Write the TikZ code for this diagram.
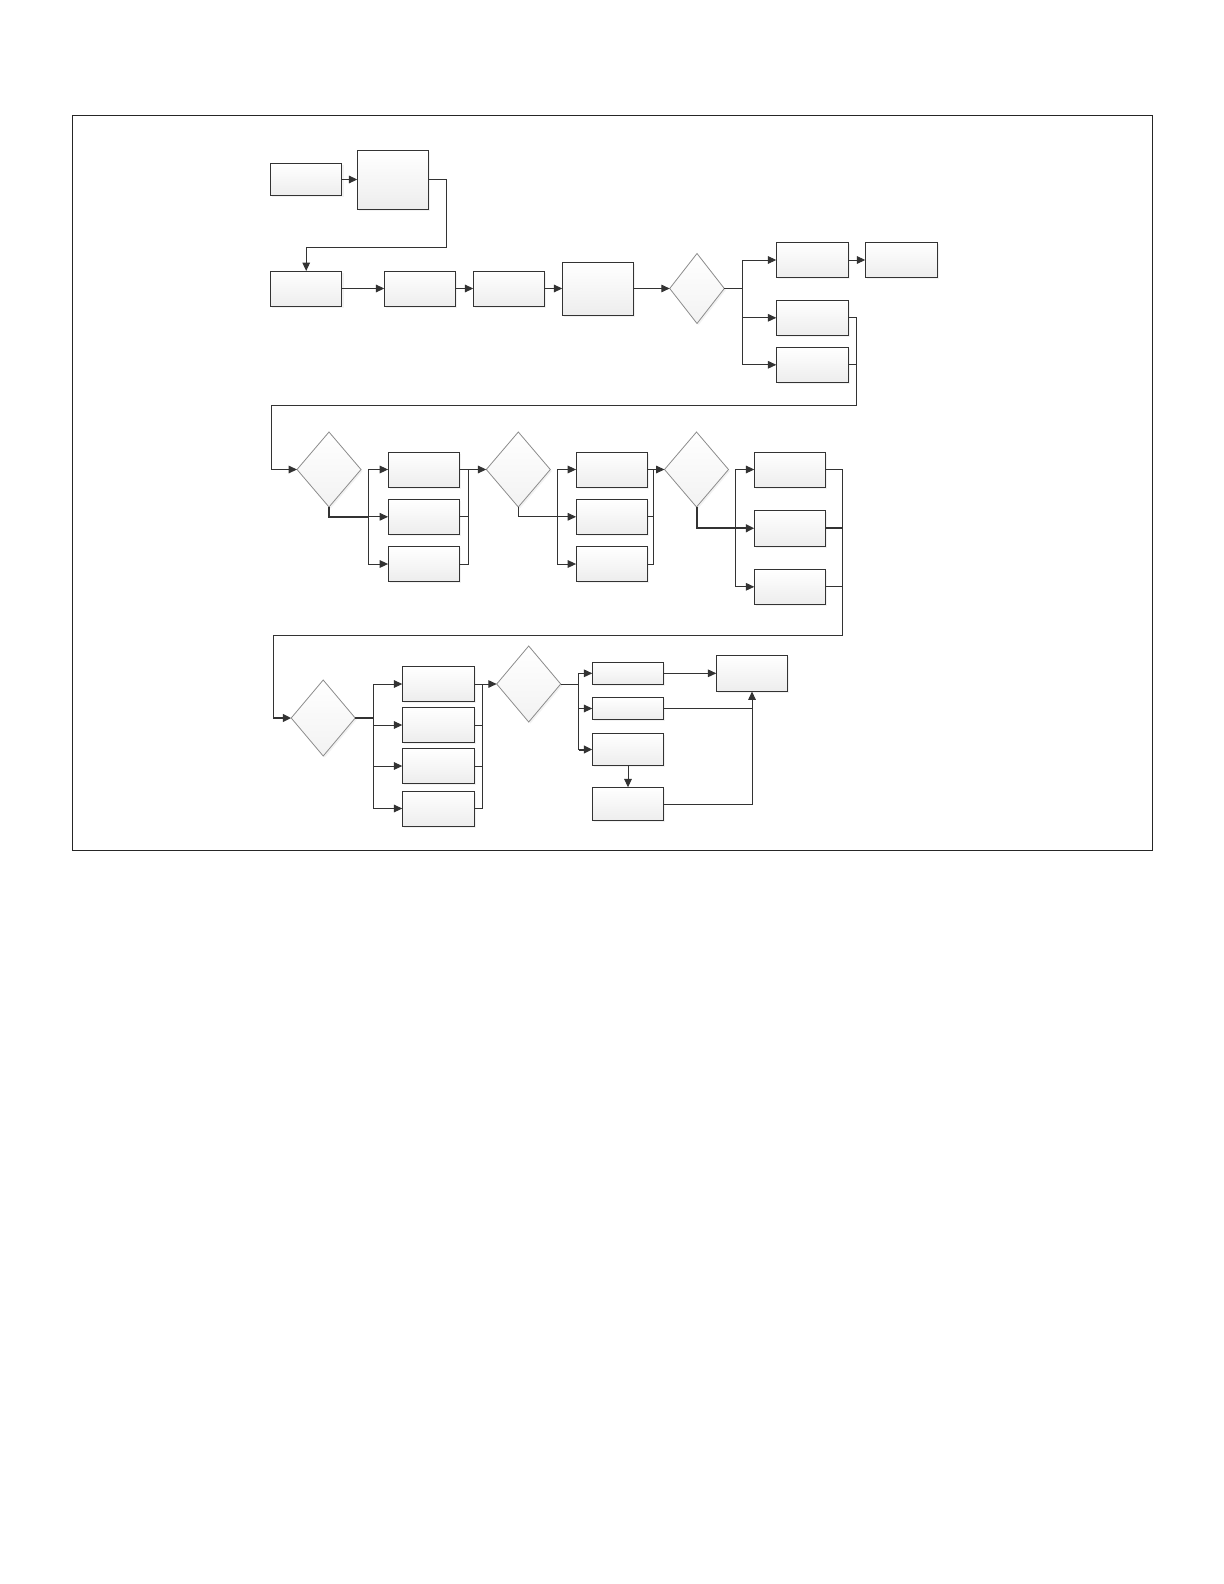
\documentclass[tikz,border=0pt]{standalone}
\usetikzlibrary{shapes.geometric,arrows.meta,shadows}

\begin{document}
\begin{tikzpicture}[x=0.5pt,y=-0.5pt,
    box/.style={rectangle, draw=black!80, line width=0.5pt, top color=white, bottom color=black!7,
      drop shadow={opacity=0.1, shadow xshift=0.8pt, shadow yshift=-0.8pt},
      minimum width=35.7pt, minimum height=17.5pt, inner sep=0pt, outer sep=0pt},
    dec/.style={diamond, draw=black!45, line width=0.4pt, top color=white, bottom color=black!5,
      drop shadow={opacity=0.1, shadow xshift=0.8pt, shadow yshift=-0.8pt},
      minimum width=32pt, minimum height=37.5pt, inner sep=0pt, outer sep=0pt},
    line/.style={draw=black!80, line width=0.5pt},
    arr/.style={line, -{Triangle[length=4.2pt,width=3.8pt]}},
    bold/.style={line width=1pt}]
    \useasboundingbox (0,0) rectangle (1224,1584);

    % 外枠
    \draw[line width=0.6pt, black!85] (72.3,115.3) rectangle (1152.3,850.3);

    % ノードの定義
    \node[box, minimum height=16pt] (A) at (306.2,179.5) {};
    \node[box, minimum height=29.5pt] (B) at (393,179.5) {};
    \node[box] (C) at (306.2,288.5) {};
    \node[box] (D) at (420,288.5) {};
    \node[box] (E) at (509,288.5) {};
    \node[box, minimum height=26.5pt] (F) at (598,288.5) {};
    \node[dec, minimum width=27.3pt, minimum height=35pt] (d1) at (697,288.5) {};
    \node[box, minimum width=36.2pt] (G1) at (812.5,260) {};
    \node[box, minimum width=36.2pt] (G2) at (901.5,260) {};
    \node[box, minimum width=36.2pt] (G3) at (812.5,317.8) {};
    \node[box, minimum width=36.2pt] (G4) at (812.5,364.8) {};

    \node[dec] (d2) at (329,469.5) {};
    \node[box] (H1) at (423.8,469.5) {};
    \node[box] (H2) at (423.8,516.8) {};
    \node[box] (H3) at (423.8,564) {};
    \node[dec] (d3) at (518.3,469.5) {};
    \node[box] (I1) at (611.8,469.5) {};
    \node[box] (I2) at (611.8,516.8) {};
    \node[box] (I3) at (611.8,564) {};
    \node[dec] (d4) at (696.5,469.5) {};
    \node[box] (J1) at (790,469.5) {};
    \node[box, minimum height=18pt] (J2) at (790,528.3) {};
    \node[box] (J3) at (790,586.8) {};

    \node[dec, minimum height=38pt] (d5) at (323.2,718) {};
    \node[box, minimum width=36pt] (K1) at (438.3,684) {};
    \node[box, minimum width=36pt] (K2) at (438.3,725) {};
    \node[box, minimum width=36pt] (K3) at (438.3,766) {};
    \node[box, minimum width=36pt] (K4) at (438.3,808.5) {};
    \node[dec, minimum height=38pt] (d6) at (528.7,684) {};
    \node[box, minimum height=11pt] (L1) at (628,673.3) {};
    \node[box, minimum height=11.2pt] (L2) at (628,708.5) {};
    \node[box, minimum height=16.2pt] (L3) at (628,749.5) {};
    \node[box, minimum height=16.7pt] (L4) at (628,804) {};
    \node[box, minimum height=18.2pt] (M) at (752,673.3) {};

    % 分岐点・合流点
    \coordinate (ab) at (446.3,247.3);
    \coordinate (b1) at (742.3,288.5);
    \coordinate (g) at (856,405);
    \coordinate (g2) at (271.5,405);
    \coordinate (b2) at (368.3,516.8);
    \coordinate (c2) at (468.3,469.5);
    \coordinate (b3) at (557.7,516.8);
    \coordinate (c3) at (653.3,469.5);
    \coordinate (b4) at (735.7,528.3);
    \coordinate (c4) at (842.5,635);
    \coordinate (c4b) at (273.3,635);
    \coordinate (b5) at (373.3,718);
    \coordinate (c5) at (482.3,684);
    \coordinate (b6) at (578.7,684);

    % エッジの定義(1段目・2段目)
    \draw[arr] (A.east) -- (B.west);
    \draw[arr] (B.east) -| (ab) -| (C.north);
    \draw[arr] (C.east) -- (D.west);
    \draw[arr] (D.east) -- (E.west);
    \draw[arr] (E.east) -- (F.west);
    \draw[arr] (F.east) -- (d1.west);
    \draw[line] (d1.east) -- (b1);
    \draw[arr] (b1) |- (G1.west);
    \draw[arr] (b1) |- (G4.west);
    \draw[arr] (b1 |- G3.west) -- (G3.west);
    \draw[arr] (G1.east) -- (G2.west);
    \draw[line] (G4.east) -- (G4.east -| g);
    \draw[arr] (G3.east) -| (g) -- (g2) |- (d2.west);

    % エッジの定義(3段目)
    \draw[line, bold] (d2.south) |- (b2);
    \draw[arr] (b2) |- (H1.west);
    \draw[arr] (b2) -- (H2.west);
    \draw[arr] (b2) |- (H3.west);
    \draw[line] (H3.east) -| (c2) -- (H1.east);
    \draw[line] (H2.east) -- (H2.east -| c2);
    \draw[arr] (c2) -- (d3.west);
    \draw[line] (d3.south) |- (b3);
    \draw[arr] (b3) |- (I1.west);
    \draw[arr] (b3) -- (I2.west);
    \draw[arr] (b3) |- (I3.west);
    \draw[line] (I3.east) -| (c3) -- (I1.east);
    \draw[line] (I2.east) -- (I2.east -| c3);
    \draw[arr] (c3) -- (d4.west);
    \draw[arr, bold] (d4.south) |- (J2.west);
    \draw[arr] (b4) |- (J1.west);
    \draw[arr] (b4) |- (J3.west);
    \draw[line] (J1.east) -| (c4) -- (c4b) -- (c4b |- d5.west);
    \draw[line, bold] (J2.east) -- (J2.east -| c4);
    \draw[line] (J3.east) -- (J3.east -| c4);
    \draw[arr, bold] (c4b |- d5.west) -- (d5.west);

    % エッジの定義(4段目)
    \draw[line, bold] (d5.east) -- (b5);
    \draw[arr] (b5) |- (K1.west);
    \draw[arr] (b5) |- (K4.west);
    \draw[arr] (b5 |- K2.west) -- (K2.west);
    \draw[arr] (b5 |- K3.west) -- (K3.west);
    \draw[line] (K4.east) -| (c5) -- (K1.east);
    \draw[line] (K2.east) -- (K2.east -| c5);
    \draw[line] (K3.east) -- (K3.east -| c5);
    \draw[arr] (c5) -- (d6.west);
    \draw[line] (d6.east) -- (b6);
    \draw[arr] (b6) |- (L1.west);
    \draw[line] (b6) -- (b6 |- L3.west);
    \draw[arr, bold] (b6 |- L3.west) -- (L3.west);
    \draw[arr] (b6 |- L2.west) -- (L2.west);
    \draw[arr] (L1.east) -- (M.west);
    \draw[line] (L2.east) -- (L2.east -| M.south);
    \draw[arr] (L3.south) -- (L4.north);
    \draw[arr] (L4.east) -| (M.south);
  \end{tikzpicture}
\end{document}
